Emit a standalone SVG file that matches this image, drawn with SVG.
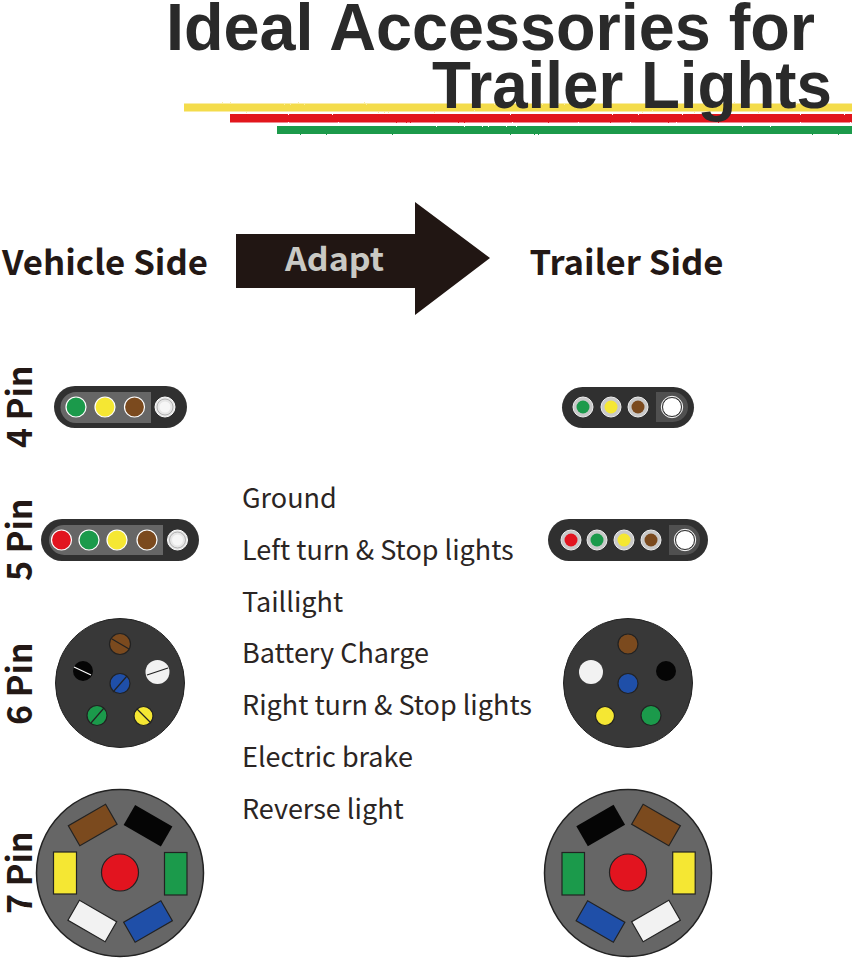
<svg xmlns="http://www.w3.org/2000/svg" width="852" height="960" viewBox="0 0 852 960">
<style>
.title{font:bold 66px "Liberation Sans",Arial,sans-serif;fill:#2a2a2a}
.head{font:700 34px "Noto Sans CJK JP","Noto Sans",sans-serif;fill:#231815}
.leg{font:400 27px "Noto Sans CJK JP","Noto Sans",sans-serif;fill:#2b2523}
.pin{stroke-width:1.2;stroke:#fff}
.body{fill:#303030}
.seat{fill:#666}
.seat2{fill:#505050}
.dk{fill:#383838;stroke:#222;stroke-width:1}
.gy{fill:#666;stroke:#222;stroke-width:1.5}
.sl{stroke:#fff;stroke-width:1.2}
.sd{stroke:#222;stroke-width:1.2}
.o{stroke:#222;stroke-width:1.2}
.ring{fill:#c9c9c9;stroke:#eee;stroke-width:1}
.fine{fill:none;stroke:#999;stroke-width:.7}
.g{fill:#1b9a4b}.y{fill:#f5e733}.b{fill:#7b4a1e}.r{fill:#e2141f}.w{fill:#f2f2f2}.k{fill:#050505}.u{fill:#1f4fa8}
</style>
<defs>
<filter id="rough" x="-2%" y="-60%" width="104%" height="220%"><feTurbulence type="fractalNoise" baseFrequency="0.5" numOctaves="2" seed="3"/><feDisplacementMap in="SourceGraphic" scale="2"/></filter>
</defs>
<g id="stripes" filter="url(#rough)">
<rect x="184" y="103.500" width="680" height="8" fill="#f4dc4c"/>
<rect x="230" y="114" width="640" height="8.500" fill="#e2141f"/>
<rect x="277" y="126" width="590" height="8" fill="#1b9a4b"/>
</g>
<g id="title">
<text class="title" x="166" y="50" textLength="649" lengthAdjust="spacingAndGlyphs">Ideal Accessories for</text>
<text class="title" x="432" y="108" textLength="400" lengthAdjust="spacingAndGlyphs">Trailer Lights</text>
</g>
<g id="vehicle-side"><text class="head" x="2" y="275" textLength="206" lengthAdjust="spacingAndGlyphs">Vehicle Side</text></g>
<g id="trailer-side"><text class="head" x="529.500" y="275" textLength="194" lengthAdjust="spacingAndGlyphs">Trailer Side</text></g>
<g id="connectors">
<polygon points="236,234 415,234 415,202 490,258 415,315 415,288 236,288" fill="#211613"/>
<text x="285" y="271" font-family="Noto Sans CJK JP,Noto Sans,sans-serif" font-weight="700" font-size="32" fill="#c9c9c4" textLength="99" lengthAdjust="spacingAndGlyphs">Adapt</text>
</g>
<g id="legend">
<text class="leg" x="242" y="508">Ground</text>
<text class="leg" x="242" y="560">Left turn &amp; Stop lights</text>
<text class="leg" x="242" y="612">Taillight</text>
<text class="leg" x="242" y="663">Battery Charge</text>
<text class="leg" x="242" y="715">Right turn &amp; Stop lights</text>
<text class="leg" x="242" y="767">Electric brake</text>
<text class="leg" x="242" y="819">Reverse light</text>
</g>
<g id="v4">
<rect class="body" x="54" y="386" width="133" height="42" rx="21"/>
<path class="seat" d="M151 392H76a15.500 15.500 0 0 0 0 31H151Z"/>
<circle class="g pin" cx="76" cy="407" r="10"/><circle class="y pin" cx="105" cy="407" r="10"/><circle class="b pin" cx="134.500" cy="407" r="10"/>
<circle cx="165" cy="407" r="10" fill="#e6e6e6" stroke="#fff"/><circle class="fine" cx="165" cy="407" r="8"/><circle cx="165" cy="407" r="5.500" fill="#f6f6f6"/>
</g>
<g id="v5">
<rect class="body" x="41" y="519" width="158" height="42" rx="21"/>
<path class="seat" d="M163 525H64a15 15 0 0 0 0 30H163Z"/>
<circle class="r pin" cx="61.500" cy="540" r="10"/><circle class="g pin" cx="89" cy="540" r="10"/><circle class="y pin" cx="117" cy="540" r="10"/><circle class="b pin" cx="147" cy="540" r="10"/>
<circle cx="177.500" cy="540" r="10" fill="#e6e6e6" stroke="#fff"/><circle class="fine" cx="177.500" cy="540" r="8"/><circle cx="177.500" cy="540" r="5.500" fill="#f6f6f6"/>
</g>
<g id="t4">
<rect class="body" x="562" y="387" width="132" height="41" rx="20.500"/>
<path class="seat2" d="M656 392H673a15 15 0 0 1 0 30H656Z"/>
<circle class="ring" cx="583" cy="407" r="10"/><circle class="g" cx="583" cy="407" r="6.500"/>
<circle class="ring" cx="611" cy="407" r="10"/><circle class="y" cx="611" cy="407" r="6.500"/>
<circle class="ring" cx="638" cy="407" r="10"/><circle class="b" cx="638" cy="407" r="6.500"/>
<circle cx="672" cy="407" r="9.500" fill="#fff" stroke="#333" stroke-width="1"/><circle cx="672" cy="407" r="10.700" fill="none" stroke="#fff" stroke-width="1"/>
</g>
<g id="t5">
<rect class="body" x="548" y="519" width="160" height="42" rx="21"/>
<path class="seat2" d="M669 525H685a15 15 0 0 1 0 30H669Z"/>
<circle class="ring" cx="571" cy="540" r="10"/><circle class="r" cx="571" cy="540" r="6.500"/>
<circle class="ring" cx="597" cy="540" r="10"/><circle class="g" cx="597" cy="540" r="6.500"/>
<circle class="ring" cx="624" cy="540" r="10"/><circle class="y" cx="624" cy="540" r="6.500"/>
<circle class="ring" cx="651" cy="540" r="10"/><circle class="b" cx="651" cy="540" r="6.500"/>
<circle cx="685" cy="540" r="9.500" fill="#fff" stroke="#333" stroke-width="1"/><circle cx="685" cy="540" r="10.700" fill="none" stroke="#fff" stroke-width="1"/>
</g>
<g id="v6">
<circle class="dk" cx="120" cy="683" r="64.500"/>
<circle class="b o" cx="120" cy="644" r="10.500"/><line class="sd" x1="112" y1="639" x2="129" y2="649"/>
<circle class="w" cx="157.500" cy="672" r="12"/><line class="sd" x1="147" y1="675" x2="168" y2="668"/>
<circle class="k" cx="83" cy="671" r="10"/><line class="sl" x1="74" y1="667" x2="91" y2="675"/>
<circle class="u o" cx="120" cy="683.500" r="10"/><line class="sd" x1="113" y1="692" x2="127" y2="676"/>
<circle class="g o" cx="97" cy="715.500" r="10"/><line class="sd" x1="91" y1="723" x2="104" y2="708"/>
<circle class="y o" cx="143.500" cy="716" r="9.500"/><line class="sd" x1="137" y1="709" x2="151" y2="723"/>
</g>
<g id="t6">
<circle class="dk" cx="628" cy="683" r="64.500"/>
<circle class="b o" cx="628" cy="644" r="10"/>
<circle class="w" cx="591" cy="672" r="12"/>
<circle class="k" cx="666" cy="671" r="10"/>
<circle class="u o" cx="628" cy="683.500" r="10"/>
<circle class="y o" cx="605" cy="716" r="9.500"/>
<circle class="g o" cx="651" cy="715.500" r="10"/>
</g>
<g id="v7">
<circle class="gy" cx="120" cy="873" r="83.500"/>
<circle class="r o" cx="120" cy="872.500" r="18.500"/>
<rect class="y o" x="53.500" y="852" width="23" height="42"/>
<rect class="g o" x="164.500" y="852.500" width="22.500" height="42.500"/>
<rect class="b o" x="-21.500" y="-11.500" width="43" height="23" transform="translate(92.700,825) rotate(-30)"/>
<rect class="k" x="-21.500" y="-11.500" width="43" height="23" transform="translate(148,825.700) rotate(30)"/>
<rect class="w o" x="-21.500" y="-11.500" width="43" height="23" transform="translate(92.300,921) rotate(30)"/>
<rect class="u o" x="-21.500" y="-11.500" width="43" height="23" transform="translate(148,921.500) rotate(-30)"/>
</g>
<g id="t7">
<circle class="gy" cx="628" cy="873" r="83.500"/>
<circle class="r o" cx="628" cy="872.500" r="18.500"/>
<rect class="g o" x="562" y="852.500" width="22.500" height="42.500"/>
<rect class="y o" x="672.700" y="852" width="22.500" height="42"/>
<rect class="k" x="-21.500" y="-11.500" width="43" height="23" transform="translate(600.700,825.500) rotate(-30)"/>
<rect class="b o" x="-21.500" y="-11.500" width="43" height="23" transform="translate(656,825) rotate(30)"/>
<rect class="u o" x="-21.500" y="-11.500" width="43" height="23" transform="translate(600.500,921.500) rotate(30)"/>
<rect class="w o" x="-21.500" y="-11.500" width="43" height="23" transform="translate(656,921) rotate(-30)"/>
</g>
<g id="labels">
<text class="head" transform="translate(32,448) rotate(-90)">4 Pin</text>
<text class="head" transform="translate(32,581) rotate(-90)">5 Pin</text>
<text class="head" transform="translate(32,725) rotate(-90)">6 Pin</text>
<text class="head" transform="translate(32,914) rotate(-90)">7 Pin</text>
</g>
</svg>
